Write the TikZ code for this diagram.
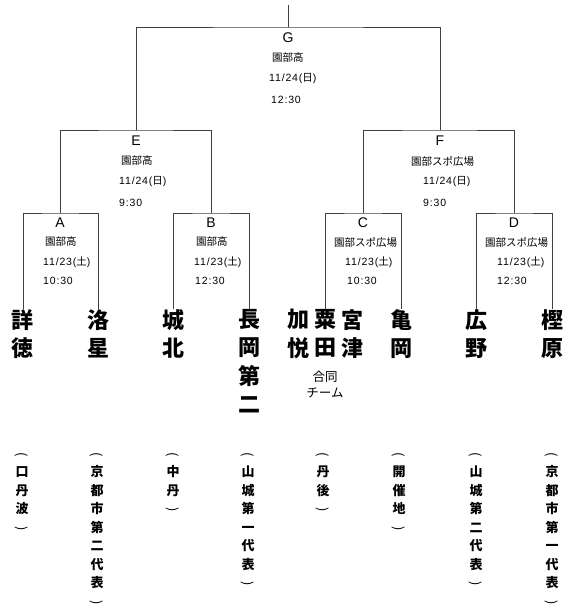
\documentclass[tikz,border=0pt]{standalone}
\usepackage{fontspec}
\setmainfont{Noto Sans CJK JP}
\newfontfamily\latinf{Liberation Sans}
\newfontfamily\numf[LetterSpace=8]{Liberation Sans}
\newcommand{\vlp}{\rotatebox[origin=c]{-90}{\mdseries(}}
\newcommand{\vrp}{\rotatebox[origin=c]{-90}{\mdseries)}}
\tikzset{
  bline/.style={line width=0.75pt, draw=black!75},
  mletter/.style={font=\latinf\fontsize{14}{14}\selectfont, inner sep=0},
  minfo/.style={font=\fontsize{10.5}{10.5}\selectfont, inner sep=0, anchor=west},
  team/.style={font=\bfseries\fontsize{22}{28.5}\selectfont, align=center, inner sep=0, anchor=north},
  note/.style={font=\bfseries\fontsize{13}{18.5}\selectfont, align=center, inner sep=0, anchor=north},
  joint/.style={font=\fontsize{12.5}{16}\selectfont, align=center, inner sep=0},
}
\begin{document}
\begin{tikzpicture}[x=1pt,y=-1pt]
\useasboundingbox[fill=white] (0,0) rectangle (570,612);
% bracket corner points
\coordinate (top) at (288,5);
\coordinate (mG) at (288,27);
\coordinate (mE) at (136,130);
\coordinate (mF) at (440,130);
\coordinate (mA) at (60,213);
\coordinate (mB) at (211,213);
\coordinate (mC) at (363,213);
\coordinate (mD) at (514,213);
% match info
\node[mletter] (G) at (288,38) {G};
\node[minfo] (Gv) at (272,58) {園部高};
\node[minfo] (Gd) at (269,79) {{\numf 11/24(}日{\numf )}};
\node[minfo] (Gt) at (271,100) {\numf 12:30};
\node[mletter] (E) at (136,141) {E};
\node[minfo] (Ev) at (121,161) {園部高};
\node[minfo] (Ed) at (119,182) {{\numf 11/24(}日{\numf )}};
\node[minfo] (Et) at (119,203) {\numf 9:30};
\node[mletter] (F) at (440,141) {F};
\node[minfo] (Fv) at (411,161) {園部スポ広場};
\node[minfo] (Fd) at (423,182) {{\numf 11/24(}日{\numf )}};
\node[minfo] (Ft) at (423,203) {\numf 9:30};
\node[mletter] (A) at (60,223) {A};
\node[minfo] (Av) at (45,242) {園部高};
\node[minfo] (Ad) at (43,262) {{\numf 11/23(}土{\numf )}};
\node[minfo] (At) at (43,281) {\numf 10:30};
\node[mletter] (B) at (211,223) {B};
\node[minfo] (Bv) at (196,242) {園部高};
\node[minfo] (Bd) at (194,262) {{\numf 11/23(}土{\numf )}};
\node[minfo] (Bt) at (195,281) {\numf 12:30};
\node[mletter] (C) at (363,223) {C};
\node[minfo] (Cv) at (334,242) {園部スポ広場};
\node[minfo] (Cd) at (345,262) {{\numf 11/23(}土{\numf )}};
\node[minfo] (Ct) at (347,281) {\numf 10:30};
\node[mletter] (D) at (514,223) {D};
\node[minfo] (Dv) at (485,242) {園部スポ広場};
\node[minfo] (Dd) at (497,262) {{\numf 11/23(}土{\numf )}};
\node[minfo] (Dt) at (497,281) {\numf 12:30};
% teams
\node[team] (t1) at (23,309) {詳\\徳};
\node[team] (t2) at (98,309) {洛\\星};
\node[team] (t3) at (173,309) {城\\北};
\node[team] (t4) at (249,309) {長\\岡\\第\\二};
\node[team] (t5a) at (298,309) {加\\悦};
\node[team] (t5) at (325,309) {粟\\田};
\node[team] (t5b) at (352,309) {宮\\津};
\node[team] (t6) at (401,309) {亀\\岡};
\node[team] (t7) at (476,309) {広\\野};
\node[team] (t8) at (552,309) {樫\\原};
\node[joint] (jt) at (325,385) {合同\\チーム};
% notes
\node[note] (n1) at (22,452) {\vlp\\口\\丹\\波\\\vrp};
\node[note] (n2) at (97,452) {\vlp\\京\\都\\市\\第\\二\\代\\表\\\vrp};
\node[note] (n3) at (173,452) {\vlp\\中\\丹\\\vrp};
\node[note] (n4) at (248,452) {\vlp\\山\\城\\第\\一\\代\\表\\\vrp};
\node[note] (n5) at (323,452) {\vlp\\丹\\後\\\vrp};
\node[note] (n6) at (399,452) {\vlp\\開\\催\\地\\\vrp};
\node[note] (n7) at (476,452) {\vlp\\山\\城\\第\\二\\代\\表\\\vrp};
\node[note] (n8) at (552,452) {\vlp\\京\\都\\市\\第\\一\\代\\表\\\vrp};
% brackets
\draw[bline] (t1.north) |- (mA) -| (t2.north);
\draw[bline] (t3.north) |- (mB) -| (t4.north);
\draw[bline] (t5.north) |- (mC) -| (t6.north);
\draw[bline] (t7.north) |- (mD) -| (t8.north);
\draw[bline] (mA) |- (mE) -| (mB);
\draw[bline] (mC) |- (mF) -| (mD);
\draw[bline] (mE) |- (mG) -| (mF);
\draw[bline] (mG) -- (top);
\end{tikzpicture}
\end{document}
